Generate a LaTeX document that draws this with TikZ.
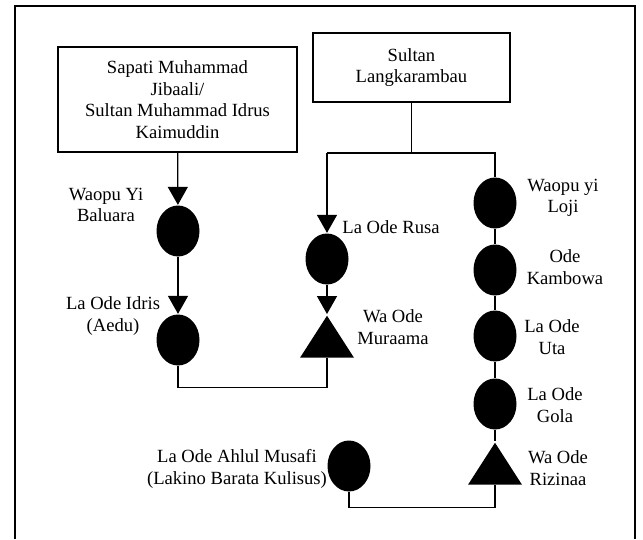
\documentclass[tikz,border=0pt]{standalone}
\usepackage{fontspec}
\setmainfont{Liberation Serif}
\usetikzlibrary{shapes.geometric,arrows.meta}

\begin{document}
\begin{tikzpicture}[x=1pt, y=-1pt, line width=1.3pt,
        >={Triangle[width=20pt,length=18pt]},
        every node/.append style={font=\fontsize{18.6}{21.5}\selectfont}]
      \tikzstyle{person} = [draw, align=center, inner sep=0pt]
      \tikzstyle{male} = [ellipse, fill=black, inner sep=0pt, minimum width=43pt, minimum height=51pt]
      \tikzstyle{female} = [isosceles triangle, isosceles triangle stretches, shape border rotate=90,
        fill=black, inner sep=0pt, minimum width=54pt, minimum height=42pt]
      \tikzstyle{heir} = [align=center, inner sep=0pt]
      \useasboundingbox (0,0) rectangle (643,539);
      \draw (15,539) -- (15,6) -- (635,6) -- (635,539);
      \node (Sapati) [person, minimum width=239pt, minimum height=105pt] at (177.5,99.5)
        {Sapati Muhammad\\Jibaali/\\Sultan Muhammad Idrus\\Kaimuddin};
      \node (Sultan) [person, minimum width=197pt, minimum height=69pt] at (411.5,67.5)
        {Sultan\\Langkarambau};
      \node (Baluara) [male] at (178,231) {};
      \node (Idris) [male] at (178,340) {};
      \node (Rusa) [male] at (327,259) {};
      \node (Muraama) [female] at (327,343) {};
      \node (Loji) [male] at (495,203) {};
      \node (Kambowa) [male] at (495,270) {};
      \node (Uta) [male] at (495,336) {};
      \node (Gola) [male] at (495,404) {};
      \node (Rizinaa) [female] at (495,470) {};
      \node (Musafi) [male] at (349,466) {};
      \coordinate (split) at (Sultan.south |- 0,153);
      \coordinate (left) at (Rusa.north |- split);
      \coordinate (right) at (Loji.north |- split);
      \node [heir] at (106,205) {Waopu Yi\\Baluara};
      \node [heir] at (113,316) {La Ode Idris\\(Aedu)};
      \node [heir] at (391,227) {La Ode Rusa};
      \node [heir] at (393,327) {Wa Ode\\Muraama};
      \node [heir] at (563,198) {Waopu yi\\Loji};
      \node [heir] at (565,267) {Ode\\Kambowa};
      \node [heir] at (552,337) {La Ode\\Uta};
      \node [heir] at (555,405) {La Ode\\Gola};
      \node [heir] at (558,468) {Wa Ode\\Rizinaa};
      \node [heir] at (237,469) {La Ode Ahlul Musafi\\(Lakino Barata Kulisus)};
      \draw[->] (Sapati) -- (Baluara);
      \draw[->] (Baluara) -- (Idris);
      \draw (Idris.south) -- ++(0,21) -| (Muraama.south);
      \draw (Sultan) -- (split);
      \draw (left) -- (right) -- (Loji.north);
      \draw[->] (left) -- (Rusa.north);
      \draw[->] (Rusa) -- (Muraama.apex);
      \draw (Loji) -- (Kambowa) -- (Uta) -- (Gola) -- (Rizinaa.apex);
      \draw (Musafi.south) -- ++(0,15) -| (Rizinaa.south);
    \end{tikzpicture}
\end{document}
